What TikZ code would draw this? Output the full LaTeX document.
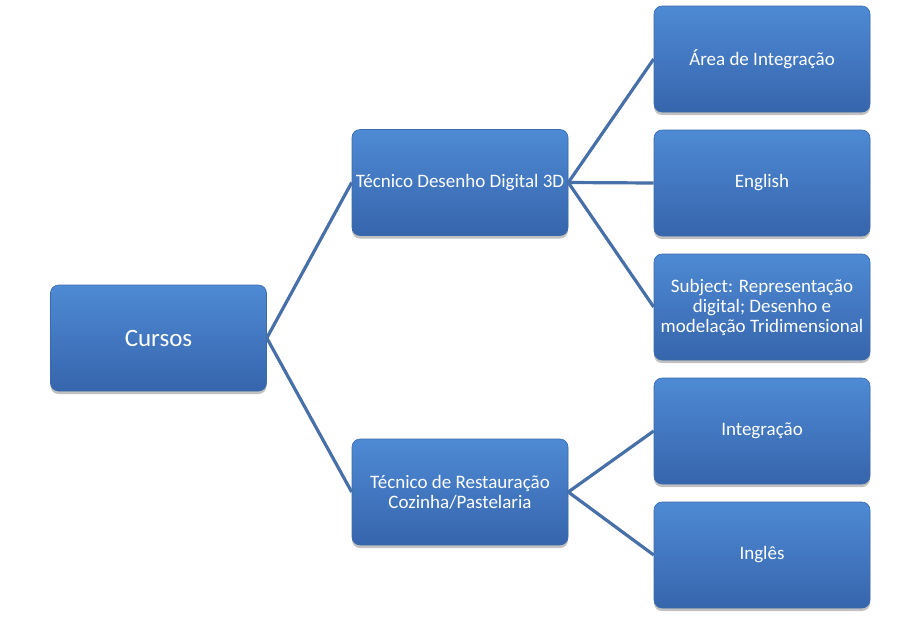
\documentclass[tikz,border=0pt]{standalone}
\usepackage{fontspec}
\setmainfont{Carlito}
\usetikzlibrary{shadows}
\definecolor{boxtop}{RGB}{78,138,212}
\definecolor{boxbot}{RGB}{54,101,172}
\definecolor{boxedge}{RGB}{60,105,170}
\definecolor{linkc}{RGB}{72,112,168}
\tikzset{
  box/.style={rectangle, rounded corners=8pt, minimum width=216pt, minimum height=106pt,
    top color=boxtop, bottom color=boxbot, draw=boxedge, line width=0.6pt,
    text=white, font=\fontsize{19}{20}\selectfont, align=center, inner sep=1pt,
    drop shadow={shadow xshift=0pt, shadow yshift=-3pt, opacity=0.35, fill=black!70}},
  bigbox/.style={box, font=\fontsize{25}{28}\selectfont},
  link/.style={draw=linkc, line width=3.2pt}
}
\begin{document}
\begin{tikzpicture}[x=1pt,y=-1pt]
\useasboundingbox (0,0) rectangle (921,622);
\node[bigbox] (cursos) at (158.5,338) {Cursos};
\node[box] (tdd) at (460,182.5) {Técnico Desenho Digital 3D};
\node[box] (tr) at (460,492) {Técnico de Restauração\\Cozinha/Pastelaria};
\node[box] (area) at (762,59) {Área de Integração};
\node[box] (eng) at (762,183) {English};
\node[box] (subj) at (762,307) {Subject: Representação\\digital; Desenho e\\modelação Tridimensional};
\node[box] (integ) at (762,431) {Integração};
\node[box] (ingl) at (762,555) {Inglês};
\draw[link] (cursos.east) -- (tdd.west);
\draw[link] (cursos.east) -- (tr.west);
\draw[link] (tdd.east) -- (area.west);
\draw[link] (tdd.east) -- (eng.west);
\draw[link] (tdd.east) -- (subj.west);
\draw[link] (tr.east) -- (integ.west);
\draw[link] (tr.east) -- (ingl.west);
\end{tikzpicture}
\end{document}
